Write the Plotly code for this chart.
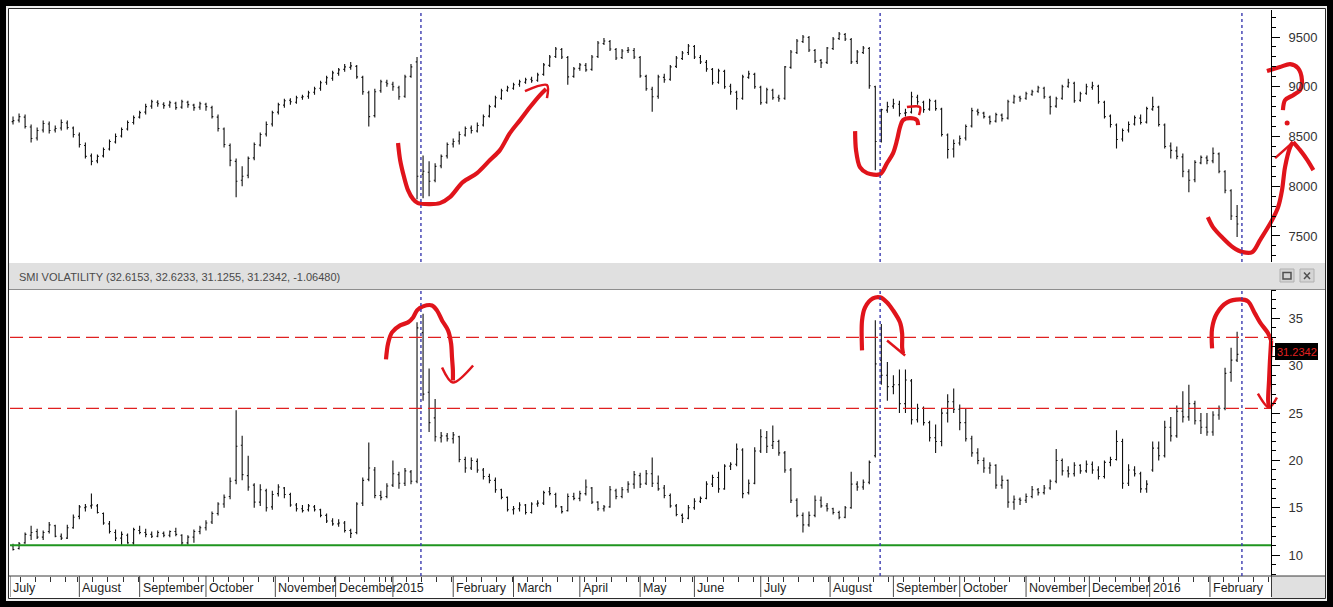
import numpy as np
import pandas as pd
import plotly.graph_objects as go

# SMI index, one OHLC bar per two trading sessions (Jul 2014 - Feb 2016)
smi_open = [
    8650, 8665, 8695, 8595, 8485, 8565, 8625, 8565, 8585, 8635, 8585, 8515,  # Jul 14
    8410, 8305, 8255, 8305, 8375, 8445, 8505, 8575, 8640, 8695,  # Aug
    8745, 8805, 8845, 8825, 8815, 8835, 8795, 8845, 8815, 8795, 8825,  # Sep
    8790, 8695, 8575, 8410, 8250, 8060, 8110, 8285, 8415, 8525, 8625,  # Oct
    8745, 8815, 8865, 8845, 8895, 8905, 8945, 8985, 9045, 9085,  # Nov
    9135, 9175, 9195, 9205, 9095, 8940, 8710, 8960, 9045, 9025,  # Dec
    8990, 8905, 9105, 9250, 8120, 8140, 8060, 8205, 8305, 8425,  # Jan 15
    8455, 8515, 8585, 8555, 8615, 8705, 8805, 8885, 8965, 8985,  # Feb
    9025, 9045, 9075, 9065, 9125, 9215, 9305, 9375, 9295, 9105, 9185,  # Mar
    9215, 9175, 9305, 9435, 9455, 9375, 9295, 9365, 9365, 9295,  # Apr
    9105, 8975, 8905, 9095, 9075, 9205, 9285, 9345, 9405,  # May
    9295, 9245, 9175, 9045, 9155, 9005, 8945, 8885, 9095, 9125, 8995,  # Jun
    8845, 8965, 8895, 8885, 9195, 9345, 9455, 9495, 9365, 9265, 9245,  # Jul
    9385, 9485, 9525, 9475, 9255, 9345, 9385, 9000, 8450, 8765, 8805,  # Aug
    8825, 8735, 8745, 8895, 8845, 8775, 8855, 8775, 8515, 8375, 8435,  # Sep
    8485, 8605, 8755, 8735, 8695, 8655, 8715, 8685, 8845, 8895, 8885,  # Oct
    8925, 8955, 8985, 8895, 8805, 8885, 9005, 9035, 8865, 8935,  # Nov
    8995, 9005, 8845, 8705, 8615, 8475, 8565, 8625, 8685, 8645,  # Dec
    8775, 8795, 8615, 8405, 8355, 8295, 8145, 8065, 8235, 8285,  # Jan 16
    8255, 8325, 8145, 7955, 7695,  # Feb
]
smi_high = [
    8700, 8730, 8720, 8620, 8590, 8660, 8650, 8610, 8670, 8660, 8600, 8540,
    8440, 8330, 8320, 8390, 8470, 8530, 8590, 8660, 8710, 8760,
    8830, 8870, 8865, 8845, 8860, 8850, 8870, 8860, 8830, 8850, 8840,
    8810, 8720, 8590, 8430, 8280, 8200, 8300, 8440, 8540, 8650, 8760,
    8840, 8880, 8885, 8910, 8920, 8960, 9000, 9060, 9110, 9160,
    9190, 9230, 9250, 9220, 9110, 8960, 8980, 9070, 9070, 9050,
    9010, 9120, 9230, 9300, 8310, 8250, 8230, 8320, 8440, 8480,
    8550, 8600, 8610, 8640, 8720, 8820, 8910, 8980, 9010, 9040,
    9070, 9090, 9100, 9140, 9240, 9320, 9400, 9390, 9310, 9200, 9240,
    9240, 9320, 9460, 9490, 9470, 9390, 9380, 9400, 9390, 9310,
    9120, 9000, 9120, 9130, 9220, 9310, 9360, 9430, 9420,
    9320, 9270, 9190, 9180, 9170, 9030, 8960, 9120, 9160, 9140, 9010,
    8990, 8980, 8920, 9210, 9370, 9480, 9520, 9510, 9380, 9280, 9400,
    9500, 9550, 9540, 9490, 9370, 9410, 9400, 9010, 8780, 8850, 8880,
    8860, 8780, 8950, 8920, 8860, 8880, 8870, 8790, 8530, 8470, 8510,
    8620, 8790, 8780, 8750, 8710, 8740, 8730, 8870, 8920, 8910, 8950,
    8970, 9010, 9000, 8910, 8900, 9020, 9080, 9050, 8950, 9030,
    9050, 9020, 8860, 8720, 8630, 8580, 8650, 8710, 8720, 8800,
    8900, 8810, 8630, 8440, 8400, 8330, 8170, 8260, 8310, 8310,
    8390, 8340, 8160, 7970, 7810,
]
smi_low = [
    8620, 8640, 8580, 8440, 8460, 8540, 8530, 8540, 8560, 8570, 8490, 8390,
    8280, 8210, 8230, 8290, 8360, 8430, 8490, 8560, 8620, 8680,
    8720, 8780, 8800, 8780, 8790, 8770, 8780, 8790, 8760, 8770, 8760,
    8680, 8550, 8390, 8200, 7890, 8000, 8080, 8260, 8400, 8500, 8600,
    8720, 8790, 8820, 8830, 8870, 8880, 8920, 8960, 9020, 9060,
    9110, 9150, 9170, 9080, 8920, 8600, 8690, 8940, 9000, 8960,
    8870, 8890, 9090, 7870, 7880, 7900, 8040, 8180, 8280, 8390,
    8420, 8500, 8530, 8540, 8600, 8690, 8790, 8870, 8950, 8970,
    9000, 9030, 9040, 9050, 9110, 9200, 9290, 9280, 9020, 9090, 9160,
    9150, 9160, 9290, 9420, 9360, 9270, 9280, 9340, 9280, 9090,
    8960, 8750, 8880, 9040, 9060, 9190, 9270, 9320, 9280,
    9230, 9150, 9020, 9030, 8980, 8920, 8770, 8870, 9080, 8980, 8820,
    8830, 8870, 8850, 8870, 9180, 9330, 9440, 9350, 9240, 9190, 9230,
    9370, 9470, 9460, 9230, 9230, 9330, 8980, 8160, 8440, 8740, 8780,
    8700, 8700, 8730, 8820, 8740, 8760, 8760, 8500, 8280, 8290, 8410,
    8460, 8590, 8710, 8680, 8620, 8640, 8650, 8670, 8830, 8850, 8870,
    8910, 8940, 8880, 8720, 8790, 8870, 8990, 8840, 8850, 8920,
    8970, 8830, 8680, 8590, 8380, 8450, 8540, 8610, 8620, 8630,
    8760, 8600, 8380, 8280, 8270, 8090, 7940, 8040, 8220, 8220,
    8230, 8130, 7930, 7660, 7490,
]
smi_close = [
    8660, 8700, 8600, 8480, 8560, 8630, 8560, 8580, 8640, 8590, 8520, 8420,
    8300, 8250, 8300, 8370, 8450, 8500, 8570, 8640, 8690, 8740,
    8800, 8850, 8830, 8810, 8840, 8790, 8850, 8820, 8790, 8830, 8800,
    8700, 8580, 8420, 8260, 8050, 8100, 8280, 8420, 8520, 8620, 8740,
    8820, 8860, 8850, 8890, 8900, 8940, 8980, 9040, 9090, 9140,
    9170, 9200, 9210, 9100, 8950, 8700, 8950, 9050, 9030, 9000,
    8900, 9100, 9200, 8100, 8150, 8050, 8200, 8300, 8420, 8450,
    8520, 8580, 8560, 8610, 8700, 8800, 8890, 8960, 8990, 9020,
    9050, 9070, 9060, 9120, 9220, 9300, 9380, 9300, 9100, 9180, 9220,
    9170, 9300, 9440, 9460, 9380, 9290, 9360, 9370, 9300, 9110,
    8980, 8900, 9100, 9070, 9200, 9290, 9340, 9410, 9300,
    9250, 9180, 9040, 9160, 9000, 8950, 8880, 9100, 9130, 9000, 8840,
    8970, 8890, 8880, 9200, 9350, 9460, 9500, 9370, 9260, 9240, 9390,
    9480, 9530, 9480, 9250, 9350, 9390, 9010, 8450, 8770, 8800, 8830,
    8730, 8740, 8900, 8850, 8770, 8860, 8780, 8520, 8370, 8430, 8480,
    8600, 8760, 8740, 8700, 8650, 8720, 8680, 8850, 8900, 8880, 8930,
    8950, 8990, 8900, 8800, 8880, 9000, 9040, 8860, 8930, 9000,
    9010, 8850, 8700, 8620, 8470, 8560, 8620, 8690, 8640, 8780,
    8800, 8620, 8400, 8360, 8300, 8150, 8060, 8240, 8290, 8260,
    8330, 8150, 7960, 7700, 7620,
]

# SMI volatility, same bars
vol_open = [
    11.0, 10.7, 11.3, 12.1, 12.5, 11.9, 12.5, 13.1, 12.0, 11.8, 12.9, 14.1,
    15.0, 15.2, 15.2, 14.4, 13.3, 12.4, 11.8, 12.1, 11.3, 12.6,
    12.4, 12.2, 12.0, 12.3, 12.1, 12.5, 12.1, 11.3, 11.9, 12.5, 12.9,
    13.5, 14.4, 15.4, 16.2, 17.9, 21.6, 18.4, 17.4, 15.6, 16.8, 15.1,
    16.5, 17.1, 16.4, 15.3, 14.9, 14.8, 15.1, 14.8, 14.2, 13.6,
    13.3, 13.4, 12.6, 12.4, 15.5, 18.0, 19.0, 16.3, 16.2, 17.4,
    18.5, 17.6, 18.8, 17.8, 33.5, 27.2, 24.5, 22.4, 22.6, 22.3,
    22.5, 20.1, 19.2, 19.9, 19.0, 18.3, 17.9, 16.9, 16.1, 14.8,
    14.9, 15.3, 14.5, 15.4, 15.5, 16.7, 16.4, 15.1, 14.7, 16.2, 16.0,
    16.5, 17.1, 15.6, 14.9, 15.1, 16.8, 16.2, 16.9, 17.5, 18.4,
    17.6, 18.6, 17.6, 17.1, 16.3, 15.2, 14.2, 13.9, 15.0,
    15.7, 16.0, 17.5, 18.2, 17.0, 19.4, 19.6, 21.1, 16.6, 17.6, 21.0,
    22.4, 21.6, 22.0, 20.8, 19.0, 15.8, 14.2, 13.2, 14.2, 15.8, 15.2,
    14.9, 14.5, 14.0, 15.0, 17.5, 17.2, 17.7, 20.5, 30.6, 29.0, 27.8,
    28.0, 26.0, 28.4, 24.3, 25.5, 24.0, 22.4, 22.0, 25.0, 26.2, 25.4,
    24.0, 22.3, 20.8, 20.0, 19.2, 19.5, 17.4, 17.9, 15.6, 15.9, 15.8,
    16.2, 16.9, 16.6, 17.1, 17.8, 20.0, 18.9, 18.6, 19.5, 18.9,
    19.6, 19.0, 18.3, 19.8, 20.1, 22.0, 17.6, 19.0, 18.6, 17.0,
    19.0, 21.3, 20.5, 23.5, 22.6, 25.2, 24.6, 26.0, 24.2, 23.5,
    23.0, 24.8, 25.5, 29.3, 30.6,
]
vol_high = [
    11.2, 11.4, 12.4, 13.1, 12.8, 12.6, 13.5, 13.2, 12.3, 13.2, 14.3, 15.3,
    15.4, 16.5, 15.4, 14.5, 13.6, 12.7, 12.5, 12.3, 12.9, 13.1,
    12.8, 12.5, 12.6, 12.5, 12.6, 12.9, 12.2, 12.1, 12.7, 13.1, 13.7,
    14.6, 15.6, 16.4, 18.2, 25.3, 22.6, 20.5, 17.6, 17.5, 17.0, 16.8,
    17.5, 17.2, 16.6, 15.5, 15.3, 15.4, 15.3, 14.9, 14.4, 13.9,
    13.8, 13.6, 12.8, 15.6, 18.2, 21.9, 19.3, 16.8, 17.6, 20.0,
    18.8, 19.2, 19.0, 34.6, 35.5, 29.7, 26.5, 23.0, 22.9, 23.0,
    22.6, 20.4, 20.3, 20.2, 19.2, 18.6, 18.2, 17.0, 16.2, 15.2,
    15.6, 15.4, 15.6, 15.8, 16.8, 17.2, 16.6, 15.2, 16.5, 16.6, 16.8,
    18.0, 17.2, 15.7, 15.3, 17.3, 17.0, 17.2, 17.8, 18.9, 18.7,
    19.0, 20.3, 18.4, 17.4, 16.5, 15.4, 14.4, 15.3, 16.0,
    16.2, 17.8, 18.5, 18.8, 19.6, 19.8, 21.8, 21.3, 18.0, 21.4, 23.3,
    23.1, 23.7, 22.2, 21.0, 19.2, 16.0, 14.5, 14.6, 16.3, 16.2, 15.5,
    15.0, 14.7, 15.2, 18.8, 17.8, 18.0, 20.0, 34.8, 34.4, 30.4, 29.0,
    29.6, 29.6, 28.6, 26.0, 25.7, 24.2, 23.8, 25.5, 27.0, 27.6, 25.9,
    25.5, 22.6, 21.3, 20.3, 19.8, 19.6, 18.4, 18.0, 16.3, 16.1, 16.5,
    17.3, 17.1, 17.4, 18.0, 21.2, 20.2, 19.4, 19.8, 19.6, 20.0,
    19.9, 19.4, 20.0, 20.4, 23.2, 22.3, 19.6, 19.4, 18.8, 17.9,
    22.0, 22.0, 24.2, 24.6, 25.8, 27.3, 28.0, 26.3, 25.0, 25.0,
    25.2, 25.8, 29.8, 31.9, 33.6,
]
vol_low = [
    10.5, 10.6, 11.2, 11.6, 11.7, 11.6, 12.3, 11.9, 11.6, 11.7, 12.8, 13.8,
    14.6, 14.9, 14.4, 13.2, 12.3, 11.5, 11.1, 11.2, 11.1, 12.2,
    11.9, 11.8, 11.9, 11.9, 11.9, 12.0, 11.0, 11.1, 11.3, 12.2, 12.6,
    13.3, 14.2, 15.0, 15.9, 17.5, 17.9, 16.8, 15.0, 15.2, 14.6, 14.8,
    16.2, 16.0, 15.1, 14.6, 14.5, 14.6, 14.6, 14.0, 13.4, 13.1,
    13.0, 12.4, 11.8, 12.2, 15.2, 17.8, 16.0, 15.8, 16.0, 17.2,
    17.0, 17.3, 17.5, 17.6, 26.3, 23.0, 22.0, 21.9, 22.0, 21.8,
    19.8, 18.7, 19.0, 18.7, 18.0, 17.6, 16.6, 15.9, 14.6, 14.3,
    14.6, 14.3, 14.4, 15.1, 15.3, 16.3, 15.0, 14.4, 14.6, 15.8, 15.7,
    16.3, 15.4, 14.7, 14.6, 15.0, 15.9, 16.0, 16.6, 17.0, 17.1,
    17.4, 17.2, 16.8, 16.0, 15.0, 14.1, 13.4, 13.8, 14.8,
    15.5, 15.9, 17.2, 16.6, 16.9, 19.0, 19.4, 16.0, 16.4, 17.5, 20.8,
    20.8, 21.2, 20.5, 18.7, 15.5, 14.0, 12.4, 13.0, 14.0, 15.0, 14.6,
    14.3, 13.8, 13.9, 14.9, 16.8, 16.9, 17.5, 20.3, 28.0, 26.3, 27.0,
    25.0, 25.0, 23.8, 24.0, 23.7, 22.0, 20.8, 21.5, 24.0, 25.0, 23.2,
    22.0, 20.4, 19.6, 18.7, 18.6, 17.0, 17.0, 15.0, 14.8, 15.3, 15.5,
    16.0, 16.3, 16.4, 16.9, 17.6, 18.4, 18.2, 18.3, 18.6, 18.7,
    18.6, 18.0, 18.1, 19.4, 20.0, 17.0, 17.3, 18.3, 16.6, 16.6,
    18.8, 20.0, 20.3, 22.0, 22.4, 24.0, 24.2, 23.8, 22.8, 22.6,
    22.6, 24.3, 25.3, 28.3, 30.4,
]
vol_close = [
    10.6, 11.2, 12.2, 12.4, 11.9, 12.4, 13.2, 12.0, 11.8, 12.9, 14.0, 15.1,
    15.1, 15.3, 14.5, 13.4, 12.5, 11.8, 12.2, 11.3, 12.7, 12.4,
    12.2, 12.0, 12.4, 12.1, 12.5, 12.2, 11.3, 11.9, 12.5, 12.9, 13.4,
    14.4, 15.4, 16.1, 17.8, 21.5, 18.5, 17.2, 15.6, 16.9, 15.0, 16.4,
    17.2, 16.4, 15.3, 14.9, 14.7, 15.2, 14.8, 14.2, 13.6, 13.3,
    13.4, 12.6, 12.3, 15.4, 17.9, 19.2, 16.3, 16.1, 17.3, 18.6,
    17.6, 18.9, 17.8, 34.0, 27.0, 24.0, 22.5, 22.6, 22.3, 22.7,
    20.1, 19.2, 20.0, 19.0, 18.3, 17.9, 16.9, 16.1, 14.8, 14.9,
    15.3, 14.5, 15.4, 15.5, 16.6, 16.5, 15.2, 14.6, 16.2, 16.0, 16.5,
    17.2, 15.6, 14.9, 15.1, 16.9, 16.2, 16.9, 17.5, 18.5, 17.5,
    18.6, 17.6, 17.0, 16.3, 15.2, 14.3, 13.9, 15.0, 15.7,
    16.0, 17.5, 18.2, 17.0, 19.4, 19.6, 21.2, 16.5, 17.6, 21.0, 22.5,
    21.5, 22.0, 20.8, 19.0, 15.8, 14.2, 13.2, 14.2, 15.8, 15.2, 14.9,
    14.5, 14.0, 15.0, 17.5, 17.2, 17.7, 19.8, 30.2, 29.0, 27.8, 28.0,
    26.0, 28.5, 24.3, 25.5, 24.0, 22.4, 22.0, 25.0, 26.2, 25.4, 24.0,
    22.3, 20.8, 20.0, 19.2, 19.5, 17.4, 17.9, 15.6, 15.9, 15.8, 16.2,
    16.9, 16.6, 17.1, 17.8, 20.0, 18.9, 18.6, 19.5, 18.9, 19.6,
    19.0, 18.3, 19.8, 20.1, 22.0, 17.6, 19.0, 18.6, 17.0, 17.5,
    21.3, 20.5, 23.5, 22.6, 25.2, 24.6, 26.0, 24.2, 23.5, 23.0,
    24.8, 25.5, 29.2, 30.6, 31.2,
]

vol_bands = [33.0, 25.5]   # red dashed levels
vol_floor = 11.05          # green support line
month_labels = ["July", "August", "September", "October", "November", "December",
                "2015", "February", "March", "April", "May", "June", "July",
                "August", "September", "October", "November", "December",
                "2016", "February"]
six_holidays = ["2014-08-01", "2014-12-24", "2014-12-25", "2014-12-26", "2014-12-31",
                "2015-01-01", "2015-01-02", "2015-04-03", "2015-04-06", "2015-05-01",
                "2015-05-14", "2015-05-25", "2015-12-24", "2015-12-25", "2015-12-31",
                "2016-01-01"]
event_lines = [135.8, 288.1, 408.1]  # blue dotted markers (trading-day index)
header_text = "SMI VOLATILITY (32.6153, 32.6233, 31.1255, 31.2342, -1.06480)"
last_value = "31.2342"

# hand drawn red marks, (trading day index, value)
ink_top_jan = [(128.2, 8434), (128.9, 8263), (130.2, 8092), (131.5, 7961), (133.2, 7870),
               (134.8, 7830), (138.8, 7820), (142.1, 7830), (145.4, 7890), (149.7, 8041),
               (154.4, 8132), (158.7, 8263), (162.0, 8363), (165.3, 8534), (168.7, 8665),
               (172.0, 8796), (175.3, 8916), (177.3, 8977)]
ink_top_jan_head = [(170.3, 8957), (177.6, 9017), (177.6, 8886)]
ink_top_aug = [(279.8, 8554), (280.1, 8363), (281.4, 8192), (283.8, 8132), (288.1, 8122),
               (290.4, 8232), (292.4, 8333), (293.7, 8464), (294.7, 8595), (295.7, 8665),
               (298.0, 8685), (300.3, 8665), (300.7, 8615)]
ink_top_aug_head = [(297.0, 8796), (301.3, 8796), (301.0, 8715)]
ink_top_feb = [(396.8, 7689), (398.5, 7589), (401.8, 7478), (405.1, 7387), (408.4, 7337),
               (411.5, 7337), (414.1, 7458), (418.1, 7659), (420.1, 7790), (421.4, 7961),
               (422.4, 8192), (424.1, 8393), (425.1, 8444)]
ink_top_feb_tail = [(425.1, 8444), (427.4, 8363), (429.8, 8263), (431.8, 8162)]
ink_top_feb_head = [(419.1, 8283), (424.7, 8434)]
ink_top_question = [(416.4, 9158), (420.7, 9198), (424.1, 9228), (426.7, 9188), (428.0, 9067),
                    (427.4, 8967), (425.1, 8916), (422.4, 8866), (421.7, 8765)]
ink_top_question_dot = [(423.1, 8635)]
ink_bot_jan = [(124.2, 30.67), (124.9, 32.36), (126.2, 33.52), (128.9, 34.26), (131.5, 34.58),
               (133.2, 35.10), (134.5, 35.85), (136.5, 36.27), (139.5, 36.37), (141.1, 35.85),
               (142.8, 34.79), (144.8, 33.73), (145.8, 32.36), (146.1, 30.88), (146.4, 29.50),
               (146.4, 28.45)]
ink_bot_jan_head = [(142.8, 29.82), (146.4, 28.23), (153.1, 30.03)]
ink_bot_aug = [(282.1, 31.62), (282.1, 34.79), (283.1, 36.16), (285.7, 37.11), (288.1, 37.22),
               (290.4, 36.69), (292.4, 35.85), (294.7, 34.58), (295.4, 33.41), (295.4, 31.93),
               (295.7, 31.30)]
ink_bot_aug_head = [(290.4, 32.67), (296.4, 31.09)]
ink_bot_feb = [(398.2, 31.83), (398.2, 33.94), (399.8, 35.53), (403.2, 36.69), (407.5, 37.00),
               (410.1, 36.80), (412.4, 35.53), (414.1, 34.58), (416.8, 33.41), (417.8, 32.67)]
ink_bot_feb_tail = [(417.8, 32.67), (417.4, 30.56), (417.1, 28.45), (416.8, 26.33), (417.1, 25.59)]
ink_bot_feb_head = [(413.4, 27.07), (417.1, 25.59), (419.7, 26.65)]

# geometry (pixels of the 1333x607 page)
W, H = 1333, 607
PLOT_L, PLOT_R, AXIS_X = 10, 1325, 1271
TOP_T, TOP_B, BOT_T, BOT_B, STRIP_B = 10, 262, 290, 576, 597
PX_PER_DAY = 3.015
FONT = "Liberation Sans, Arial, sans-serif"
INK = "#e0141b"


def px(x):
    return x / W


def py(y):
    return 1 - y / H


x_range = [-0.5, -0.5 + (PLOT_R - PLOT_L) / PX_PER_DAY]
x_edge = -0.5 + (AXIS_X - PLOT_L) / PX_PER_DAY

# trading calendar (SIX) used for axis positions
days = pd.bdate_range("2014-07-01", "2016-02-29")
days = days[~days.isin(pd.to_datetime(six_holidays))]
n_days = len(days)
month_start = [i for i in range(n_days) if i == 0 or days[i].month != days[i - 1].month]
weeks = days.to_period("W")
week_end = [i for i in range(n_days - 1) if weeks[i + 1] != weeks[i] and i <= x_edge]
bar_x = np.arange(len(smi_close)) * 2 + 0.5

fig = go.Figure()
for xa, ya, o, h, l, c in [("x", "y", smi_open, smi_high, smi_low, smi_close),
                           ("x2", "y2", vol_open, vol_high, vol_low, vol_close)]:
    fig.add_trace(go.Ohlc(x=bar_x, open=o, high=h, low=l, close=c, xaxis=xa, yaxis=ya,
                          increasing_line_color="#111", decreasing_line_color="#111",
                          line_width=1.1, tickwidth=0.22, hoverinfo="skip", showlegend=False))


def ink(points, xa, ya, width=4.2, mode="lines"):
    xs, ys = zip(*points)
    fig.add_trace(go.Scatter(x=xs, y=ys, mode=mode, xaxis=xa, yaxis=ya,
                             line=dict(color=INK, width=width, shape="spline", smoothing=0.9),
                             marker=dict(color=INK, size=5),
                             hoverinfo="skip", showlegend=False))


for pts in [ink_top_jan, ink_top_aug, ink_top_feb, ink_top_feb_tail, ink_top_question]:
    ink(pts, "x", "y")
for pts in [ink_top_jan_head, ink_top_aug_head, ink_top_feb_head]:
    ink(pts, "x", "y", width=2.5)
ink(ink_top_question_dot, "x", "y", mode="markers")
for pts in [ink_bot_jan, ink_bot_aug, ink_bot_feb, ink_bot_feb_tail]:
    ink(pts, "x2", "y2")
for pts in [ink_bot_jan_head, ink_bot_aug_head, ink_bot_feb_head]:
    ink(pts, "x2", "y2", width=2.5)

shapes = [
    dict(type="rect", xref="paper", yref="paper", x0=px(6), x1=px(1327), y0=py(601), y1=py(6),
         fillcolor="#efefef", line_width=0, layer="below"),
    dict(type="rect", xref="paper", yref="paper", x0=px(8.5), x1=px(1325.5), y0=py(598.5), y1=py(8.5),
         fillcolor="white", line=dict(color="#2b2b2b", width=1), layer="below"),
    dict(type="rect", xref="paper", yref="paper", x0=px(9), x1=px(1325), y0=py(289.5), y1=py(263),
         fillcolor="#e0e0e0", line_width=0, layer="below"),
    dict(type="rect", xref="paper", yref="paper", x0=px(AXIS_X + 0.5), x1=px(1325), y0=py(598), y1=py(BOT_B),
         fillcolor="#e0e0e0", line_width=0, layer="below"),
    dict(type="line", xref="paper", yref="paper", x0=px(9), x1=px(1325), y0=py(289.5), y1=py(289.5),
         line=dict(color="#8e8e8e", width=1)),
    dict(type="line", xref="paper", yref="paper", x0=px(9), x1=px(1325), y0=py(BOT_B), y1=py(BOT_B),
         line=dict(color="#3a3a3a", width=1)),
    dict(type="line", xref="paper", yref="paper", x0=px(AXIS_X + 0.5), x1=px(AXIS_X + 0.5),
         y0=py(STRIP_B), y1=py(BOT_B), line=dict(color="#3a3a3a", width=1)),
]
# window buttons in the indicator header
for bx in (1280, 1300):
    shapes.append(dict(type="rect", xref="paper", yref="paper", x0=px(bx), x1=px(bx + 14),
                       y0=py(282), y1=py(269), fillcolor="#d4d4d4",
                       line=dict(color="#b0b0b0", width=1)))
shapes.append(dict(type="rect", xref="paper", yref="paper", x0=px(1283), x1=px(1291),
                   y0=py(279), y1=py(272.5), line=dict(color="#505050", width=1.5)))
shapes.append(dict(type="line", xref="paper", yref="paper", x0=px(1304), x1=px(1310),
                   y0=py(279), y1=py(272.5), line=dict(color="#505050", width=1.5)))
shapes.append(dict(type="line", xref="paper", yref="paper", x0=px(1304), x1=px(1310),
                   y0=py(272.5), y1=py(279), line=dict(color="#505050", width=1.5)))
# last value box
shapes.append(dict(type="rect", xref="paper", yref="paper", x0=px(1275), x1=px(1318),
                   y0=py(360), y1=py(343), fillcolor="black", line_width=0))
# levels in the volatility pane
for lvl in vol_bands:
    shapes.append(dict(type="line", xref="x2", yref="y2", x0=x_range[0], x1=x_edge, y0=lvl, y1=lvl,
                       line=dict(color="#e02020", width=1.3, dash="13px,6px")))
shapes.append(dict(type="line", xref="x2", yref="y2", x0=x_range[0], x1=x_edge, y0=vol_floor,
                   y1=vol_floor, line=dict(color="#1f951f", width=2)))
for xv in event_lines:
    for xa, ya in (("x", "y domain"), ("x2", "y2 domain")):
        shapes.append(dict(type="line", xref=xa, yref=ya, x0=xv, x1=xv, y0=0, y1=1,
                           line=dict(color="#3b3bb0", width=1.4, dash="dot")))
# month separators in the date strip
for i in month_start:
    shapes.append(dict(type="line", xref="x2", yref="paper", x0=i - 0.5, x1=i - 0.5,
                       y0=py(STRIP_B), y1=py(BOT_B), line=dict(color="#4a4a4a", width=1)))

annotations = [
    dict(text=header_text, xref="paper", yref="paper", x=px(17), y=py(276.5), xanchor="left",
         yanchor="middle", showarrow=False, font=dict(family=FONT, size=11, color="#4a4a4a")),
    dict(text=last_value, xref="paper", yref="paper", x=px(1296.5), y=py(351.5), xanchor="center",
         yanchor="middle", showarrow=False, font=dict(family=FONT, size=11, color="#e02020")),
]
for i, lab in zip(month_start, month_labels):
    annotations.append(dict(text=lab, xref="x2", yref="paper", x=i - 0.5, y=py(588),
                            xanchor="left", yanchor="middle", xshift=1, showarrow=False,
                            font=dict(family=FONT, size=12.5, color="#1e1e1e")))

yaxis_common = dict(anchor="free", position=px(AXIS_X), side="right", showline=True,
                    linecolor="black", linewidth=1, ticks="outside", ticklen=8,
                    tickcolor="black", showgrid=False, zeroline=False, tick0=0,
                    tickfont=dict(family=FONT, size=13, color="#333"), ticklabelstandoff=6)

fig.update_layout(
    width=W, height=H, margin=dict(l=0, r=0, t=0, b=0),
    paper_bgcolor="black", plot_bgcolor="white", showlegend=False, hovermode=False,
    xaxis=dict(domain=[px(PLOT_L), px(PLOT_R)], range=x_range, anchor="y", visible=False,
               rangeslider=dict(visible=False)),
    xaxis2=dict(domain=[px(PLOT_L), px(PLOT_R)], range=x_range, anchor="y2", showgrid=False,
                zeroline=False, showline=False, ticks="outside", ticklen=5, tickcolor="#333",
                tickmode="array", tickvals=week_end, showticklabels=False,
                rangeslider=dict(visible=False)),
    yaxis=dict(domain=[py(TOP_B), py(TOP_T)], range=[7238, 9772], dtick=500,
               minor=dict(ticks="outside", ticklen=4, dtick=100, tick0=0, tickcolor="black"),
               **yaxis_common),
    yaxis2=dict(domain=[py(BOT_B), py(BOT_T)], range=[7.8, 38], dtick=5,
                minor=dict(ticks="outside", ticklen=4, dtick=1, tick0=0, tickcolor="black"),
                **yaxis_common),
    shapes=shapes,
    annotations=annotations,
)

# page body has a default margin; drop it so the figure fills the window
fig.write_html("out.html", config={"displayModeBar": False},
               post_script="document.body.style.margin='0';")
